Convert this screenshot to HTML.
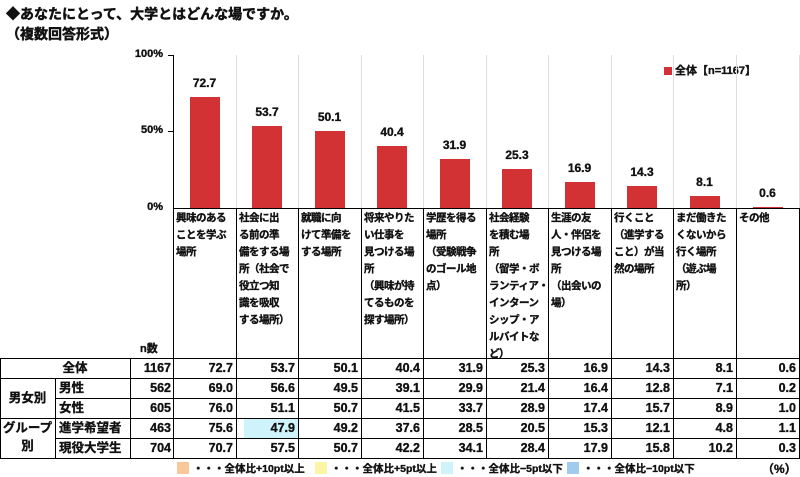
<!DOCTYPE html>
<html><head><meta charset="utf-8"><style>
*{margin:0;padding:0;box-sizing:border-box}
body{width:800px;height:477px;background:#fff;font-family:"Liberation Sans","Noto Sans CJK JP",sans-serif;font-weight:bold;color:#111;position:relative;overflow:hidden;-webkit-text-stroke:0.35px #111}
.a{position:absolute}
.t{font-size:14px;white-space:nowrap;-webkit-text-stroke:0.5px #111}
.ax{font-size:11px;text-align:right;width:40px}
.bar{position:absolute;background:#d23234;width:30px}
.val{position:absolute;font-size:12px;width:63px;text-align:center}
.lab{position:absolute;font-size:10.5px;line-height:17px;top:210px;padding-left:3px;width:63px;white-space:pre;letter-spacing:-0.5px}
.vl{position:absolute;width:1px;background:#000}
.hl{position:absolute;height:1px;background:#000}
.c{position:absolute;font-size:12.5px;text-align:right;height:20px;line-height:20px}
</style></head><body>
<div class="a t" style="left:6px;top:4px">◆あなたにとって、大学とはどんな場ですか。</div>
<div class="a t" style="left:6px;top:24px">（複数回答形式）</div>
<div class="a ax" style="left:123px;top:48px">100%</div>
<div class="a ax" style="left:123px;top:124px">50%</div>
<div class="a ax" style="left:123px;top:201px">0%</div>
<div class="a" style="left:664px;top:67px;width:8px;height:8px;background:#d23234"></div>
<div class="a" style="left:675px;top:62px;font-size:11px">全体【n=1167】</div>
<div id="g"></div>
<div class="a" style="left:140px;top:340px;font-size:11px">n数</div>
<div class="a" style="left:0;top:458px;width:800px;font-size:10.5px">
<span class="a" style="left:177px;top:4px;width:12px;height:12px;background:#f9c89a"></span><span class="a" style="left:193px;top:3px;white-space:nowrap">・・・全体比+10pt以上</span>
<span class="a" style="left:315px;top:4px;width:12px;height:12px;background:#fdf5a6"></span><span class="a" style="left:331px;top:3px;white-space:nowrap">・・・全体比+5pt以上</span>
<span class="a" style="left:441px;top:4px;width:12px;height:12px;background:#cff3fb"></span><span class="a" style="left:457px;top:3px;white-space:nowrap">・・・全体比−5pt以下</span>
<span class="a" style="left:567px;top:4px;width:12px;height:12px;background:#9fcbef"></span><span class="a" style="left:583px;top:3px;white-space:nowrap">・・・全体比−10pt以下</span>
<span class="a" style="left:762px;top:2px;font-size:12px">（%）</span>
</div>
<script>
var b=[173,236,298,361,423,486,548,611,673,736,799];
var v=[72.7,53.7,50.1,40.4,31.9,25.3,16.9,14.3,8.1,0.6];
var L=["興味のある\nことを学ぶ\n場所","社会に出\nる前の準\n備をする場\n所（社会で\n役立つ知\n識を吸収\nする場所）","就職に向\nけて準備を\nする場所","将来やりた\nい仕事を\n見つける場\n所\n（興味が持\nてるものを\n探す場所）","学歴を得る\n場所\n（受験戦争\nのゴール地\n点）","社会経験\nを積む場\n所\n（留学・ボ\nランティア・\nインターン\nシップ・ア\nルバイトな\nど）","生涯の友\n人・伴侶を\n見つける場\n所\n（出会いの\n場）","行くこと\n（進学する\nこと）が当\n然の場所","まだ働きた\nくないから\n行く場所\n（遊ぶ場\n所）","その他"];
var R=[["全体",1167,[72.7,53.7,50.1,40.4,31.9,25.3,16.9,14.3,8.1,0.6]],["男性",562,[69.0,56.6,49.5,39.1,29.9,21.4,16.4,12.8,7.1,0.2]],["女性",605,[76.0,51.1,50.7,41.5,33.7,28.9,17.4,15.7,8.9,1.0]],["進学希望者",463,[75.6,47.9,49.2,37.6,28.5,20.5,15.3,12.1,4.8,1.1]],["現役大学生",704,[70.7,57.5,50.7,42.2,34.1,28.4,17.9,15.8,10.2,0.3]]];
var h="";
for(var i=0;i<=10;i++){h+='<div class="vl" style="left:'+b[i]+'px;top:55px;height:153px;background:'+(i==0?'#000':'#ddd')+'"></div>';}
h+='<div class="hl" style="left:168px;top:55px;width:5px"></div><div class="hl" style="left:168px;top:131px;width:5px"></div>';
for(var i=0;i<10;i++){var w=b[i+1]-b[i],cx=b[i]+w/2,hh=v[i]*1.53;
h+='<div class="bar" style="left:'+(cx-15)+'px;top:'+(208-hh)+'px;height:'+hh+'px"></div>';
h+='<div class="val" style="left:'+(cx-31.5)+'px;top:'+(208-hh-21)+'px">'+v[i].toFixed(1)+'</div>';
h+='<div class="lab" style="left:'+b[i]+'px">'+L[i]+'</div>';}
h+='<div class="hl" style="left:173px;top:208px;width:626px"></div>';
for(var i=0;i<=10;i++)h+='<div class="vl" style="left:'+b[i]+'px;top:208px;height:150px"></div>';
var ys=[358,378,398,418,438,458];
h+='<div class="hl" style="left:0;top:358px;width:800px"></div><div class="hl" style="left:0;top:378px;width:800px"></div><div class="hl" style="left:55px;top:398px;width:745px"></div><div class="hl" style="left:0;top:418px;width:800px"></div><div class="hl" style="left:55px;top:438px;width:745px"></div><div class="hl" style="left:0;top:458px;width:800px"></div>';
h+='<div class="vl" style="left:0;top:358px;height:100px"></div><div class="vl" style="left:55px;top:378px;height:80px"></div><div class="vl" style="left:130px;top:358px;height:100px"></div>';
for(var i=0;i<=10;i++)h+='<div class="vl" style="left:'+b[i]+'px;top:358px;height:100px"></div>';
h+='<div class="a" style="left:244px;top:419px;width:54px;height:19px;background:#cff3fb"></div>';
h+='<div class="c" style="left:0;top:358px;width:130px;text-align:center;padding-left:20px">全体</div>';
h+='<div class="c" style="left:0;top:378px;width:55px;height:40px;line-height:40px;text-align:center">男女別</div>';
h+='<div class="c" style="left:0;top:419px;width:55px;height:40px;line-height:18px;text-align:center">グループ<br>別</div>';
for(var r=0;r<5;r++){var y=ys[r];
if(r>0)h+='<div class="c" style="left:59px;top:'+y+'px;text-align:left">'+R[r][0]+'</div>';
h+='<div class="c" style="left:130px;top:'+y+'px;width:41px">'+R[r][1]+'</div>';
for(var i=0;i<10;i++)h+='<div class="c" style="left:'+b[i]+'px;top:'+y+'px;width:'+(b[i+1]-b[i]-3)+'px">'+R[r][2][i].toFixed(1)+'</div>';}
document.getElementById('g').innerHTML=h;
</script>
</body></html>
